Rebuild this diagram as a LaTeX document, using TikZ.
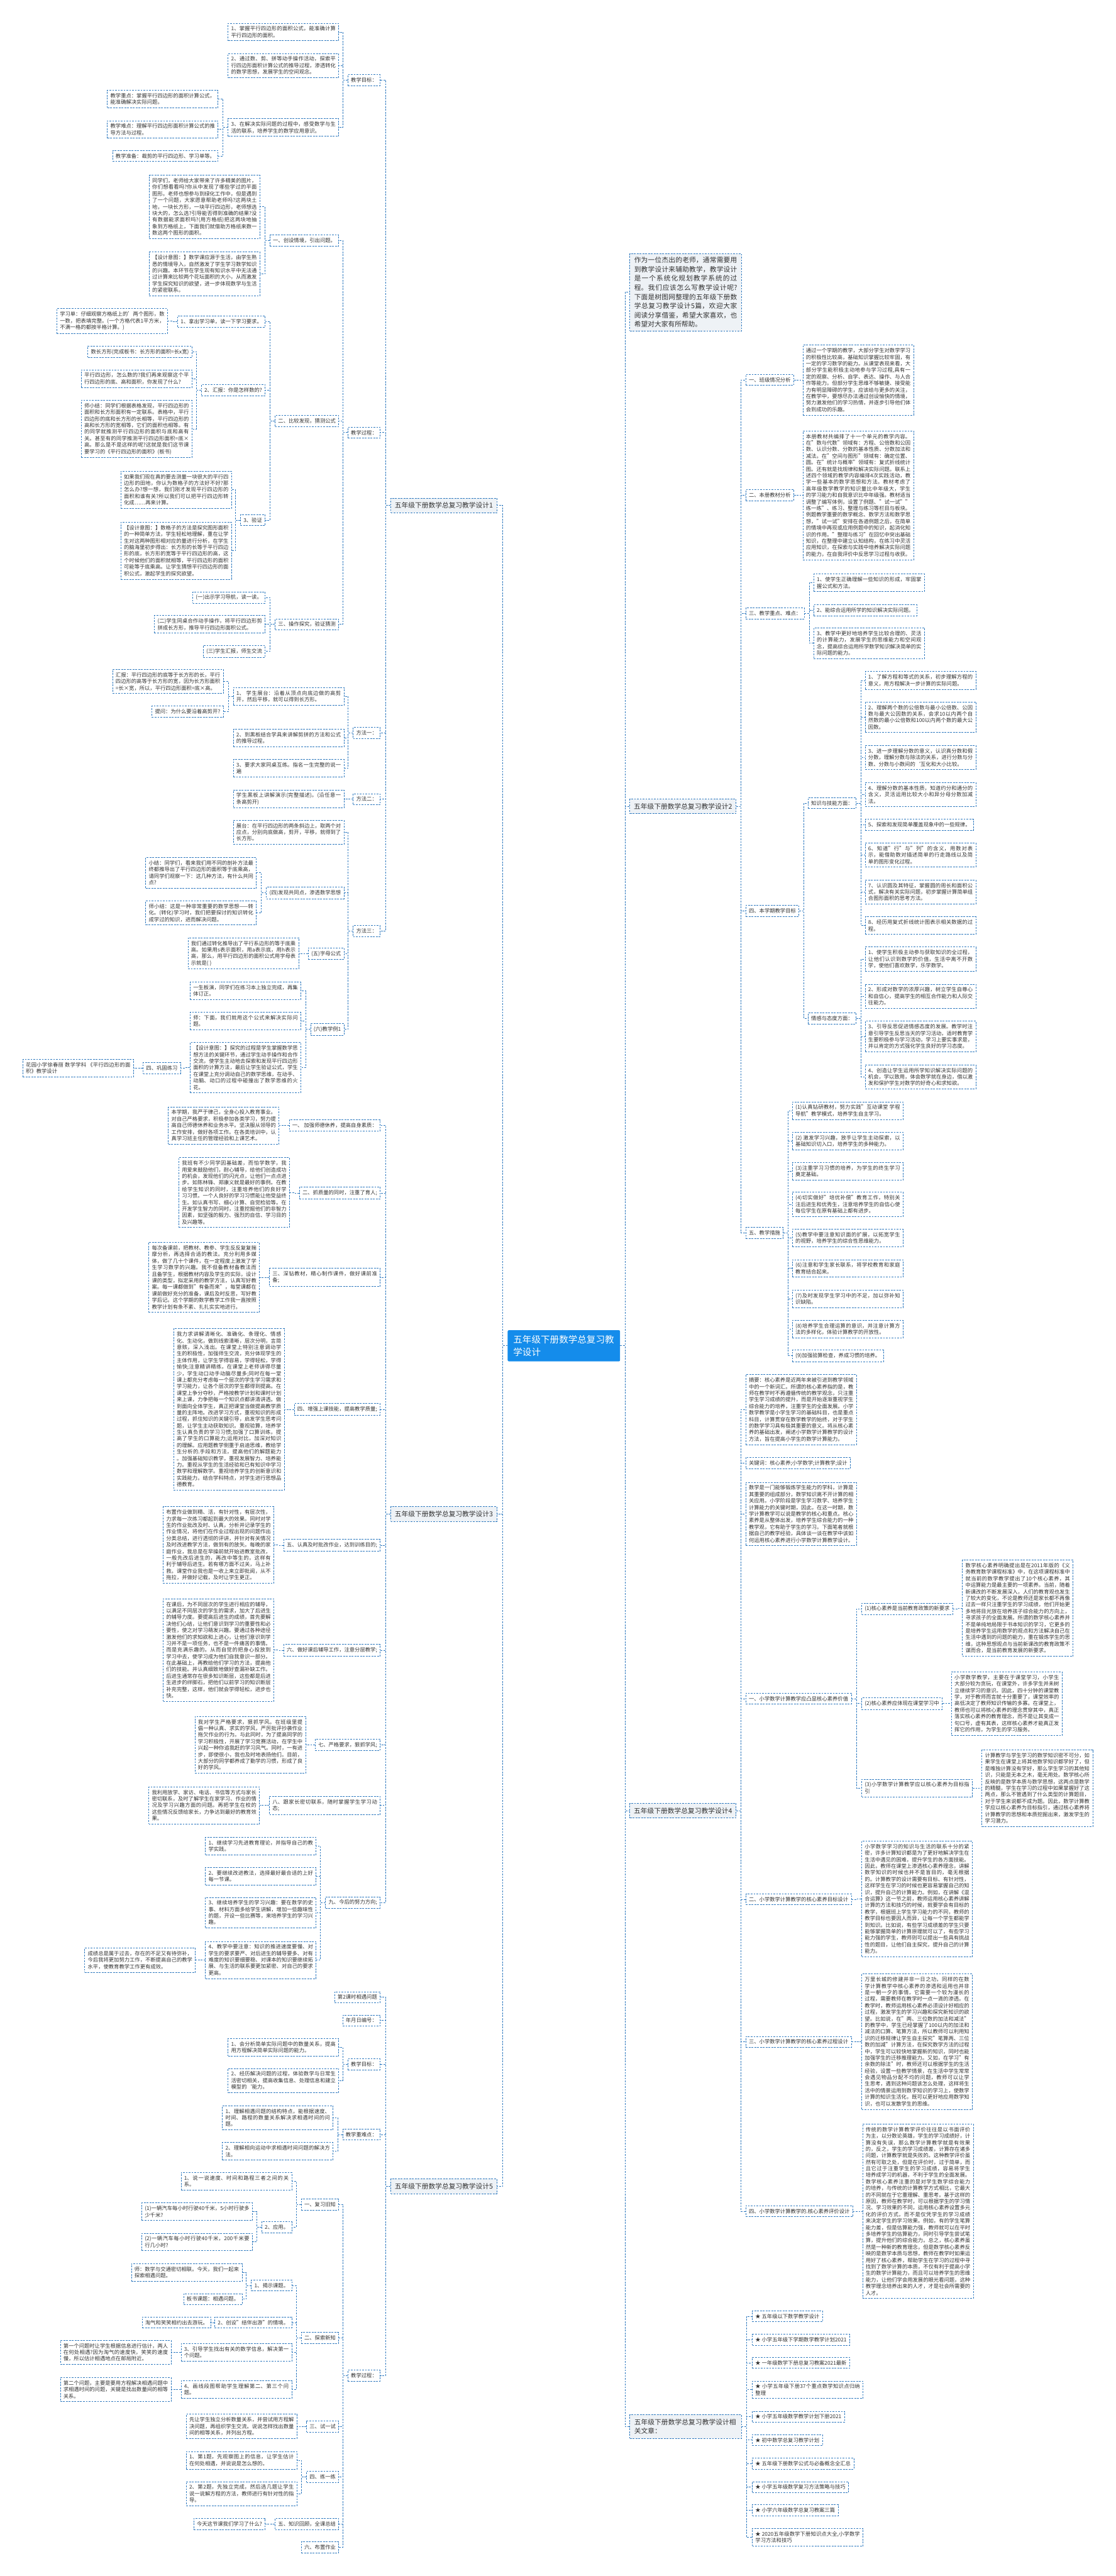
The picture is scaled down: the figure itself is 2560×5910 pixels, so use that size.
\documentclass[tikz,border=0pt]{standalone}
\usepackage{fontspec}
\setmainfont{Noto Sans CJK SC}
\XeTeXlinebreaklocale "zh"
\XeTeXlinebreakskip=0pt plus 1pt
\tolerance=9999
\emergencystretch=3em
\definecolor{linec}{RGB}{45,120,190}
\definecolor{txtc}{RGB}{51,51,51}
\definecolor{headc}{RGB}{238,242,246}
\definecolor{rootc}{RGB}{20,140,235}

\begin{document}
\begin{tikzpicture}
  [x=1pt,y=-1pt,
   box/.style={draw=linec,dash pattern=on 4pt off 2.5pt,line width=1.1pt,fill=white,text=txtc,
     font=\fontsize{12}{15}\selectfont,inner xsep=7pt,inner ysep=7pt},
   leaf/.style={box,text width=240pt,align=justify},
   lleaf/.style={leaf,anchor=east},
   llab/.style={box,anchor=east},
   rleaf/.style={leaf,anchor=west},
   rlab/.style={box,anchor=west},
   head/.style={box,fill=headc,font=\fontsize{15.5}{21}\selectfont,inner xsep=9pt,inner ysep=9.5pt},
   root/.style={fill=rootc,text=white,font=\fontsize{21}{28}\selectfont,text width=232pt,
     inner xsep=13pt,inner ysep=12pt,rounded corners=3pt},
   link/.style={draw=linec,dash pattern=on 4pt off 2.5pt,line width=1.1pt}]

  \fill[white] (0,0) rectangle (2560,5910);
  \useasboundingbox (0,0) rectangle (2560,5910);

  \node[root] (c) at (1294,3087.5) {五年级下册数学总复习教学设计};

  % design 1
  \node[head,anchor=east] (b1) at (1141,1159.5) {五年级下册数学总复习教学设计1};
  \node[llab] (mb) at (873,184) {教学目标：};
  \node[lleaf] (mb1) at (778,73.5) {1、掌握平行四边形的面积公式，能准确计算平行四边形的面积。};
  \node[lleaf] (mb2) at (778,150.5) {2、通过数、剪、拼等动手操作活动，探索平行四边形面积计算公式的推导过程，渗透转化的数学思想，发展学生的空间观念。};
  \node[lleaf] (mb3) at (778,292.5) {3、在解决实际问题的过程中，感受数学与生活的联系，培养学生的数学应用意识。};
  \node[lleaf] (zd) at (501,227) {教学重点：掌握平行四边形的面积计算公式，能准确解决实际问题。};
  \node[lleaf] (nd) at (501,297) {教学难点：理解平行四边形面积计算公式的推导方法与过程。};
  \node[llab] (zb) at (501,358) {教学准备：裁剪的平行四边形、学习单等。};
  \node[llab] (gc) at (873,992.5) {教学过程：};
  \node[llab] (s1) at (778,552) {一、创设情境，引出问题。};
  \node[lleaf] (s1a) at (597,474.5) {同学们，老师给大家带来了许多精美的图片，你们想看看吗?你从中发现了哪些学过的平面图形。老师也想参与到绿化工作中，但是遇到了一个问题，大家愿意帮助老师吗?这两块土地，一块长方形，一块平行四边形，老师想选块大的，怎么选?引导能否得到准确的结果?没有数据能求面积吗?(用方格纸)把这两块地抽象到方格纸上，下面我们就借助方格纸来数一数这两个图形的面积。};
  \node[lleaf] (s1b) at (597,628.5) {【设计意图：】数学课应源于生活，由学生熟悉的情境导入，自然激发了学生学习数学知识的兴趣。本环节在学生现有知识水平中无法通过计算来比较两个花坛面积的大小，从而激发学生探究知识的欲望，进一步体现数学与生活的紧密联系。};
  \node[llab] (s2) at (778,966) {二、比较发现，猜测公式};
  \node[llab] (s2a) at (609,737.5) {1、拿出学习单，读一下学习要求。};
  \node[lleaf] (s2aa) at (385,736.5) {学习单：仔细观察方格纸上的'两个图形，数一数，把表填完整。(一个方格代表1平方米，不满一格的都按半格计算。)};
  \node[llab] (s2b) at (609,895) {2、汇报：你是怎样数的?};
  \node[llab] (s2ba) at (441,807) {数长方形(完成板书：长方形的面积=长x宽)};
  \node[lleaf] (s2bb) at (441,868.5) {平行四边形，怎么数的?我们再来观察这个平行四边形的底、高和面积，你发现了什么?};
  \node[lleaf] (s2bc) at (441,984) {师小结：同学们根据表格发现，平行四边形的面积和长方形面积有一定联系。表格中，平行四边形的底和长方形的长相等，平行四边形的高和长方形的宽相等，它们的面积也相等。有的同学就推测平行四边形的面积与底和高有关。甚至有的同学推测平行四边形面积=底×高。那么是不是这样的呢?这就是我们这节课要学习的《平行四边形的面积》(板书)};
  \node[llab] (s2c) at (609,1193.5) {3、验证};
  \node[lleaf] (s2ca) at (532,1123.5) {如果我们现在真的要去测量一块很大的平行四边形的田地，你认为数格子的方法好不好?那怎么办?想一想，我们刚才发现平行四边形的面积和谁有关?所以我们可以把平行四边形转化成……再来计算。};
  \node[lleaf] (s2cb) at (532,1263.5) {【设计意图：】数格子的方法是探究图形面积的一种简单方法，学生轻松地理解，重在让学生对这两种图形相对应的量进行分析，在学生的脑海里初步得出：长方形的长等于平行四边形的底，长方形的宽等于平行四边形的高，这个时候他们的面积就相等，平行四边形的面积可能等于底乘高。让学生猜想平行四边形的面积公式，激起学生的探究欲望。};
  \node[llab] (s3) at (778,1432.5) {三、操作探究，验证猜测};
  \node[llab] (s3a) at (609,1371) {(一)出示学习导航，读一读。};
  \node[lleaf] (s3b) at (609,1432.5) {(二)学生同桌合作动手操作，将平行四边形剪拼成长方形，推导平行四边形面积公式。};
  \node[llab] (s3c) at (609,1494.5) {(三)学生汇报，师生交流};
  \node[llab] (f1) at (873,1681.5) {方法一：};
  \node[lleaf] (f1a) at (790,1597.5) {1、 学生展台：沿着从顶点向底边做的高剪开，然后平移，就可以得到长方形。};
  \node[lleaf] (f1aa) at (513,1563.5) {汇报：平行四边形的底等于长方形的长，平行四边形的高等于长方形的宽，因为长方形面积=长×宽，所以，平行四边形面积=底×高。};
  \node[llab] (f1ab) at (513,1632.5) {提问：为什么要沿着高剪开?};
  \node[lleaf] (f1b) at (790,1693) {2、到黑板结合学具来讲解剪拼的方法和公式的推导过程。};
  \node[lleaf] (f1c) at (790,1762.5) {3、要求大家同桌互练。指名一生完整的说一遍};
  \node[llab] (f2) at (873,1833.5) {方法二：};
  \node[lleaf] (f2a) at (790,1833) {学生黑板上讲解演示(完整描述)。(沿任意一条高剪开)};
  \node[llab] (f3) at (873,2136) {方法三：};
  \node[lleaf] (f3a) at (790,1909.5) {展台：在平行四边形的两条斜边上，取两个对应点，分别向底做高，剪开，平移，就得到了长方形。};
  \node[llab] (f3b) at (790,2048.5) {(四)发现共同点，渗透数学思想};
  \node[lleaf] (f3ba) at (589,2002.5) {小结：同学们，看来我们用不同的剖补方法最终都推导出了平行四边形的面积等于底乘高，请同学们观察一下：这几种方法，有什么共同点?};
  \node[lleaf] (f3bb) at (589,2094.5) {师小结：这是一种非常重要的数学思想——转化。(转化)学习时，我们把要探讨的知识转化成学过的知识，进而解决问题。};
  \node[llab] (f3c) at (790,2188) {(五)字母公式};
  \node[lleaf] (f3ca) at (686,2187.5) {我们通过转化推导出了平行系边形的等于底乘高。如果用s表示面积，用a表示底，用h表示高，那么，用平行四边形的面积公式用字母表示就是( )};
  \node[llab] (f3d) at (790,2361.5) {(六)教学例1};
  \node[lleaf] (f3da) at (691,2273) {一生板演，同学们在练习本上独立完成，再集体订正。};
  \node[lleaf] (f3db) at (691,2342.5) {师：下面，我们就用这个公式来解决实际问题。};
  \node[lleaf] (f3dc) at (691,2449.5) {【设计意图：】探究的过程是学生掌握数学思想方法的关键环节，通过学生动手操作和合作交流，使学生主动地去探索和发现平行四边形面积的计算方法，最后让学生验证公式，学生在课堂上充分调动自己的数学思维，在动手、动脑、动口的过程中碰撞出了数学思维的火花。};
  \node[llab] (gg) at (415,2450.5) {四、巩固练习};
  \node[lleaf] (hy) at (307,2450.5) {花园小学徐春丽 数学学科 《平行四边形的面积》教学设计};

  % design 3
  \node[head,anchor=east] (b3) at (1141,3473.5) {五年级下册数学总复习教学设计3};
  \node[llab] (t1) at (873,2582) {一、 加强师德休养，提高自身素质：};
  \node[lleaf] (t1a) at (641,2582) {本学期，我严于律己，全身心投入教育事业。对自己严格要求，积极参加各类学习，努力提高自己师德休养和业务水平。坚决服从领导的工作安排，做好各项工作。在各类培训中，认真学习班主任的管理经验和上课艺术。};
  \node[llab] (t2) at (873,2737) {二、抓质量的同时，注重了育人;};
  \node[lleaf] (t2a) at (665,2736) {我班有不少同学因基础差，而怕学数学，我用爱来鼓励他们，耐心辅导，给他们创造成功的机会，发现他们的闪光点，让他们一点点进步。如陈林锋、郑康义就是最好的事例。在教给学生知识的同时，注重培养他们的良好学习习惯。一个人良好的学习习惯能让他受益终生。如认真书写、细心计算、自觉检验等。在开发学生智力的同时，注重挖掘他们的非智力因素，如坚强的毅力、强烈的自信、学习目的及兴趣等。};
  \node[lleaf] (t3) at (873,2930.5) {三、深钻教材，精心制作课件，做好课前准备;};
  \node[lleaf] (t3a) at (596,2930.5) {每次备课前，把教材、教参、学生反反复复揣摩分析，再选择合适的教法。充分利用多媒体，做了几十个课件，在一定程度上激发了学生学习数学的兴趣。我不但备教材备教法而且备学生，根据教材内容及学生的实际，设计课的类型，拟定采用的教学方法，认真写好教案。每一课都做到"有备而来"，每堂课都在课前做好充分的准备，课后及时反思，写好教学后记。这个学期的数学教学工作我一直按照教学计划有条不紊、扎扎实实地进行。};
  \node[llab] (t4) at (873,3233.5) {四、增强上课技能，提高教学质量;};
  \node[lleaf] (t4a) at (653,3233.5) {我力求讲解清晰化、准确化、条理化、情感化、生动化，做到线索清晰，层次分明，言简意赅，深入浅出。在课堂上特别注意调动学生的积极性，加强师生交流，充分体现学生的主体作用，让学生学得容易，学得轻松，学得愉快;注意精讲精练，在课堂上老师讲得尽量少，学生动口动手动脑尽量多;同时在每一堂课上都充分考虑每一个层次的学生学习需求和学习能力，让各个层次的学生都得到提高。在课堂上争分夺秒，严格按教学计划和课时计划来上课，力争把每一个知识点都讲清讲透。做到面向全体学生，真正把课堂当做提高教学质量的主阵地。改进学习方式，重视知识的形成过程，抓住知识的关键引导，启发学生思考问题，让学生主动获取知识。重视验算，培养学生认真负责的学习习惯;加强了口算训练，提高了学生的口算能力;运用对比，加深对知识的理解。应用题教学侧重于启迪思维，教给学生分析的.手段和方法，提高他们的解题能力 。加强基础知识教学，重视发展智力、培养能力。重视从学生的生活经验和已有知识中学习数学和理解数学。重视培养学生的创新意识和实践能力。结合学科特点，对学生进行思想品德教育。};
  \node[llab] (t5) at (873,3545) {五、认真及时批改作业，达到训练目的;};
  \node[lleaf] (t5a) at (629,3544.5) {布置作业做到精、活，有针对性，有层次性，力求每一次练习都起到最大的效果。同时对学生的作业批改及时、认真，分析并记录学生的作业情况，将他们在作业过程出现的问题作出分类总结，进行透彻的评讲，并针对有关情况及时改进教学方法，做到有的放矢。每晚的家庭作业，我总是在早操前就开始进教室批改，一般先改后进生的，再改中等生的，这样有利于辅导后进生。若有哪方面不过关，马上补救。课堂作业我也是一收上来立即批阅，从不拖拉，并做好记载，及时让学生更正。};
  \node[llab] (t6) at (873,3786) {六、做好课后辅导工作，注意分层教学;};
  \node[lleaf] (t6a) at (629,3785.5) {在课后，为不同层次的学生进行相应的辅导，以满足不同层次的学生的需求，加大了后进生的辅导力度。要提高后进生的成绩，首先要解决他们心结，让他们意识到学习的重要性和必要性，使之对学习萌发兴趣。要通过各种途径激发他们的求知欲和上进心，让他们意识到学习并不是一项任务，也不是一件痛苦的事情。而是充满乐趣的。从而自觉的把身心投放到学习中去，使学习成为他们自我意识一部分。在此基础上，再教给他们学习的方法，提高他们的技能。并认真细致地做好查漏补缺工作。后进生通常存在很多知识断层，这些都是后进生进步的绊脚石，把他们以前学习的知识断层补充完整，这样，他们就会学得轻松，进步也快。};
  \node[llab] (t7) at (873,4003) {七、严格要求，狠抓学风;};
  \node[lleaf] (t7a) at (702,4003) {我对学生严格要求，狠抓学风。在班级里提倡一种认真、求实的学风，严厉批评抄袭作业拖欠作业的行为。与此同时，为了提高同学的学习积极性，开展了学习竞赛活动，在学生中兴起一种你追我赶的学习风气。同时，一有进步，即使很小，我也及时地表扬他们。目前，大部分的同学都养成了勤学的习惯，形成了良好的学风。};
  \node[lleaf] (t8) at (873,4142) {八、跟家长密切联系，随时掌握学生学习动态;};
  \node[lleaf] (t8a) at (596,4142) {我利用放学、家访、电话、书信等方式与家长密切联系，及时了解学生在家学习、作业的情况及学习兴趣方面的问题。再把学生在校的这些情况反馈给家长，力争达到最好的教育效果。};
  \node[llab] (t9) at (873,4365) {九、今后的努力方向;};
  \node[lleaf] (t9a) at (726,4235) {1、继续学习先进教育理论，并指导自己的教学实践。};
  \node[lleaf] (t9b) at (726,4304.5) {2、要继续改进教法，选择最好最合适的上好每一节课。};
  \node[lleaf] (t9c) at (726,4388) {3、继续培养学生的学习兴趣：要在数学的史事、材料方面多给学生讲解，增加一些趣味性的题，开设一些比赛等，来培养学生的学习兴趣。};
  \node[lleaf] (t9d) at (726,4496.5) {4、教学中要注意：知识的推进速度要慢、对学生的要求要严、对后进生的辅导要多、对有难度的知识要细要稳、对课本的知识要继续拓展、与生活的联系要更加紧密、对自己的要求更高。};
  \node[lleaf] (t9e) at (449,4497) {成绩总是属于过去，存在的不足又有待弥补，今后我将更加努力工作，不断提高自己的教学水平，使教育教学工作更有成效。};

  % design 5
  \node[head,anchor=east] (b5) at (1141,5016) {五年级下册数学总复习教学设计5};
  \node[llab] (k1) at (873,4582) {第2课时相遇问题};
  \node[llab] (k2) at (873,4635.5) {年月日编号：};
  \node[llab] (k3) at (873,4736) {教学目标：};
  \node[lleaf] (k3a) at (778,4697) {1、会分析简单实际问题中的数量关系，提高用方程解决简单实际问题的能力。};
  \node[lleaf] (k3b) at (778,4773) {2、经历解决问题的过程，体验数学与日常生活密切相关，提高收集信息、处理信息和建立模型的`能力。};
  \node[llab] (k4) at (873,4897) {教学重难点：};
  \node[lleaf] (k4a) at (765,4858.5) {1、理解相遇问题的结构特点，能根据速度、时间、路程的数量关系解决求相遇时间的问题。};
  \node[lleaf] (k4b) at (765,4935.5) {2、理解相向运动中求相遇时间问题的解决方法。};
  \node[llab] (k5) at (873,5450) {教学过程：};
  \node[llab] (p1) at (778,5057.5) {一、复习旧知};
  \node[lleaf] (p1a) at (670,5004) {1、说一说速度、时间和路程三者之间的关系。};
  \node[llab] (p1b) at (670,5109.5) {2、应用。};
  \node[lleaf] (p1ba) at (580,5074) {(1)一辆汽车每小时行驶40千米，5小时行驶多少千米?};
  \node[lleaf] (p1bb) at (580,5143.5) {(2)一辆汽车每小时行驶40千米，200千米要行几小时?};
  \node[llab] (p2) at (778,5363.5) {二、探索新知};
  \node[llab] (p2a) at (670,5243.5) {1、揭示课题。};
  \node[lleaf] (p2aa) at (556,5213.5) {师：数学与交通密切相联。今天，我们一起来探索相遇问题。};
  \node[llab] (p2ab) at (556,5274.5) {板书课题：相遇问题。};
  \node[llab] (p2b) at (670,5328.5) {2、创设"结伴出游"的情境。};
  \node[llab] (p2ba) at (485,5328.5) {淘气和笑笑相约出去游玩。};
  \node[lleaf] (p2c) at (670,5397) {3、引导学生找出有关的数学信息，解决第一个问题。};
  \node[lleaf] (p2ca) at (393,5397) {第一个问题时让学生根据信息进行估计，两人在何处相遇?因为淘气的速度快，笑笑的速度慢，所以估计相遇地点在邮局附近。};
  \node[lleaf] (p2d) at (670,5482) {4、画线段图帮助学生理解第二、第三个问题。};
  \node[lleaf] (p2da) at (393,5482.5) {第二个问题，主要是要用方程解决相遇问题中求相遇时间的问题，关键是找出数量间的相等关系。};
  \node[llab] (p3) at (778,5567) {三、试一试};
  \node[lleaf] (p3a) at (682,5566.5) {先让学生独立分析数量关系，并尝试用方程解决问题，再组织学生交流。说说怎样找出数量间的相等关系，并列出方程。};
  \node[llab] (p4) at (778,5682.5) {四、练一练};
  \node[lleaf] (p4a) at (682,5644.5) {1、第1题，先观察图上的信息，让学生估计在何处相遇，并说说是怎么想的。};
  \node[lleaf] (p4b) at (682,5721) {2、第2题，先独立完成，然后选几题让学生说一说解方程的方法，教师进行有针对性的指导。};
  \node[llab] (p5) at (778,5790.5) {五、知识回顾，全课总结};
  \node[llab] (p5a) at (609,5790.5) {今天这节课我们学习了什么?};
  \node[llab] (p6) at (778,5844) {六、布置作业};

  % intro
  \node[head,anchor=west,text width=236pt,align=justify,inner xsep=10pt,inner ysep=8pt] (intro) at (1445,670.5) {作为一位杰出的老师，通常需要用到教学设计来辅助教学，教学设计是一个系统化规划教学系统的过程。我们应该怎么写教学设计呢?下面是树图网整理的五年级下册数学总复习教学设计5篇，欢迎大家阅读分享借鉴，希望大家喜欢，也希望对大家有所帮助。};

  % design 2
  \node[head,anchor=west] (b2) at (1445,1850) {五年级下册数学总复习教学设计2};
  \node[rlab] (r1) at (1711,871.5) {一、班级情况分析};
  \node[rleaf] (r1a) at (1842,872) {通过一个学期的教学，大部分学生对数学学习的积极性比较高，基础知识掌握比较牢固，有一定的学习数学的能力。从课堂表现来看，大部分学生能积极主动地参与学习过程,具有一定的观察、分析、自学、表达、操作、与人合作等能力。但部分学生思维不够敏捷、接受能力有明显障碍的学生，应该给与更多的关注，在教学中，要想尽办法通过创设愉快的情境，努力激发他们的学习热情，并逐步引导他们体会到成功的乐趣。};
  \node[rlab] (r2) at (1711,1136) {二、本册教材分析};
  \node[rleaf] (r2a) at (1842,1136.5) {本册教材共编排了十一个单元的教学内容。在"数与代数"领域有：方程、公倍数和公因数、认识分数、分数的基本性质、分数加法和减法。在"空间与图形"领域有：确定位置、圆。在"统计与概率"领域有：复式折线统计图。还有就是找规律和解决实际问题。联系上述四个领域的教学内容编排4次实践活动，教学一些基本的数学思想和方法。教材考虑了高年级数学教学的知识量比中年级大，学生的学习能力和自我意识比中年级强。教材适当调整了编写体例，设置了例题、"试一试""练一练"、练习、整理与练习等栏目与板块。例题教学重要的数学概念、数学方法和数学思想，"试一试"安排在各道例题之后，在简单的情境中再现或应用例题中的知识，起消化知识的作用。"整理与练习"在回忆中突出基础知识，在整理中建立认知结构，在练习中灵活应用知识，在探索与实践中培养解决实际问题的能力，在自我评价中反思学习过程与收获。};
  \node[rlab] (r3) at (1711,1407.5) {三、教学重点、难点：};
  \node[rleaf] (r3a) at (1867,1337) {1、使学生正确理解一些知识的形成，牢固掌握公式和方法。};
  \node[rlab] (r3b) at (1867,1400) {2、能综合运用所学的知识解决实际问题。};
  \node[rleaf] (r3c) at (1867,1475.5) {3、教学中更好地培养学生比较合理的、灵活的计算能力，发展学生的思维能力和空间观念，提高综合运用所学数学知识解决简单的实际问题的能力。};
  \node[rlab] (r4) at (1711,2089.5) {四、本学期教学目标};
  \node[rlab] (r4a) at (1854,1842.5) {知识与技能方面：};
  \node[rleaf] (r4a1) at (1985,1561) {1、了解方程和等式的关系，初步理解方程的意义，用方程解决一步计算的实际问题。};
  \node[rleaf] (r4a2) at (1985,1645.5) {2、理解两个数的公倍数与最小公倍数、公因数与最大公因数的关系，会求10以内两个自然数的最小公倍数和100以内两个数的最大公因数。};
  \node[rleaf] (r4a3) at (1985,1738) {3、进一步理解分数的意义，认识真分数和假分数，理解分数与除法的关系，进行分数与分数、分数与小数间的`互化和大小比较。};
  \node[rleaf] (r4a4) at (1985,1823) {4、理解分数的基本性质，知道约分和通分的含义，灵活运用比较大小和异分母分数加减法。};
  \node[rlab] (r4a5) at (1985,1892) {5、探索和发现简单覆盖现象中的一些规律。};
  \node[rleaf] (r4a6) at (1985,1961.5) {6、知道"行"与"列"的含义，用数对表示，能借助数对描述简单的行走路线以及简单的图形变化过程。};
  \node[rleaf] (r4a7) at (1985,2046.5) {7、认识圆及其特征，掌握圆的周长和面积公式，解决有关实际问题，初步掌握计算简单组合图形面积的思考方法。};
  \node[rleaf] (r4a8) at (1985,2123.5) {8、经历用复式折线统计图表示相关数据的过程。};
  \node[rlab] (r4b) at (1854,2336.5) {情感与态度方面：};
  \node[rleaf] (r4b1) at (1985,2200.5) {1、使学生积极主动参与获取知识的全过程，让他们认识到数学的价值，生活中离不开数学，使他们喜欢数学，乐学数学。};
  \node[rleaf] (r4b2) at (1985,2285.5) {2、形成对数学的浓厚兴趣，树立学生自尊心和自信心，提高学生的相互合作能力和人际交往能力。};
  \node[rleaf] (r4b3) at (1985,2378) {3、引导反思促进情感态度的发展。教学时注意引导学生反思当天的学习活动，适时教育学生要积极参与学习活动，学习上要实事求是，并以肯定的方式强化学生良好的学习态度。};
  \node[rleaf] (r4b4) at (1985,2470.5) {4、创造让学生运用所学知识解决实际问题的机会，学以致用，体会数学就在身边，借以激发和保护学生对数学的好奇心和求知欲。};
  \node[rlab] (r5) at (1711,2828.5) {五、教学措施};
  \node[rleaf] (r5a1) at (1818,2548) {(1)认真钻研教材，努力实践"互动课堂 学程导航"教学模式，培养学生自主学习。};
  \node[rleaf] (r5a2) at (1818,2617.5) {(2) 激发学习兴趣，放手让学生主动探索，以基础知识切入口，培养学生的多种能力。};
  \node[rleaf] (r5a3) at (1818,2687) {(3)注重学习习惯的培养，为学生的终生学习奠定基础。};
  \node[rleaf] (r5a4) at (1818,2763) {(4)切实做好"培优补偿"教育工作，特别关注后进生和优秀生，注意培养学生的自信心使每位学生在原有基础上都有进步。};
  \node[rleaf] (r5a5) at (1818,2840) {(5)教学中要注意知识面的扩展，以拓宽学生的视野，培养学生的综合性思维能力。};
  \node[rleaf] (r5a6) at (1818,2910) {(6)注意和学生家长联系，将学校教育和家庭教育结合起来。};
  \node[rleaf] (r5a7) at (1818,2979.5) {(7)及时发现学生学习中的不足，加以弥补知识缺陷。};
  \node[rleaf] (r5a8) at (1818,3049) {(8)培养学生合理运算的意识，并注意计算方法的多样化，体验计算教学的开放性。};
  \node[rlab] (r5a9) at (1818,3110.5) {(9)加强验算检查，养成习惯的培养。};

  % design 4
  \node[head,anchor=west] (b4) at (1445,4154) {五年级下册数学总复习教学设计4};
  \node[rleaf] (q0) at (1711,3234) {摘要：核心素养是近两年来被引进到教学领域中的一个新词汇。所谓的核心素养指的是，教师在教学时不再遵循传统的教学观念，只注重学生学习成绩的提升，而是开始逐渐重视学生综合能力的培养，注重学生的全面发展。小学数学教学是小学生学习的基础科目，也是重点科目，计算贯穿在数学教学的始终，对于学生的数学学习具有极其重要的意义。将从核心素养的基础出发，阐述小学数学计算教学的设计方法，旨在提高小学生的数学计算能力。};
  \node[rlab] (qk) at (1711,3356.5) {关键词：核心素养;小学数学;计算教学;设计};
  \node[rleaf] (qs) at (1711,3473.5) {数学是一门能够锻炼学生能力的学科，计算是其重要的组成部分，数学知识离不开计算的相关应用。小学阶段是学生学习数学、培养学生计算能力的关键时期，因此，在这一时期，数学计算教学可以说是教学的核心和重点。核心素养是从整体出发，培养学生综合能力的一种教学观，它有助于学生的学习。下面笔者就根据自己的教学经验，具体谈一谈在教学中该如何运用核心素养进行小学数学计算教学设计。};
  \node[rlab] (q1) at (1711,3897) {一、小学数学计算教学应凸显核心素养价值};
  \node[rlab] (q1a) at (1977,3691) {(1)核心素养是当前教育政策的新要求};
  \node[rleaf] (q1aa) at (2208,3689.5) {数学核心素养明确提出是在2011年版的《义务教育数学课程标准》中，在这项课程标准中就当前的数学教学提出了10个核心素养，其中运算能力是最主要的一项素养。当前，随着新课改的不断发展深入，人们的教育观也发生了较大的变化，不论是教师还是家长都不再像过去一样只注重学生的学习成绩，他们开始更多地将目光放在培养孩子综合能力的方向上，寻求孩子的全面发展。所谓的数学核心素养并不是单纯地局限于书本知识的学习，它更多的是培养学生运用数学的观点和方法解决自己在生活中遇到的问题的能力，重在锻炼学生的思维，这种思想观点与当前新课改的教育政策不谋而合，是当前教育发展的新要求。};
  \node[rlab] (q1b) at (1977,3908.5) {(2)核心素养应体现在课堂学习中};
  \node[rleaf] (q1ba) at (2183,3908.5) {小学数学教学，主要在于课堂学习，小学生大部分较为贪玩，在课堂外，许多学生并未树立继续学习的意识。因此，四十分钟的课堂教学，对于教师而言就十分重要了，课堂效率的高低决定了教师知识传输的多寡。在课堂上，教师也可以将核心素养的理念贯穿其中，真正落实核心素养的教育理念，而不是让其变成一句口号，虚有其表，这样核心素养才能真正发挥它的作用，为学生的学习服务。};
  \node[rleaf] (q1c) at (1977,4102) {(3)小学数学计算教学应以核心素养为目标指引};
  \node[rleaf] (q1ca) at (2253,4102.5) {计算教学与学生学习的数学知识密不可分，如果学生在课堂上将其他数学知识都学好了，但是唯独计算没有学好，那么学生学习的其他知识，只能是无本之木，毫无用处。数学核心所反映的是数学本质与数学思想，这两点是数学的精髓，学生在学习的过程中如果掌握好了这两点，那么不管遇到了什么类型的计算题目，对于学生来说都不成为题。因此，数学计算教学应以核心素养为目标指引，通过核心素养将计算教学的思想和本质挖掘出来，激发学生的学习潜力。};
  \node[rlab] (q2) at (1711,4357.5) {二、小学数学计算教学的核心素养目标设计};
  \node[rleaf] (q2a) at (1977,4356.5) {小学数学学习的知识与生活的联系十分的紧密，许多计算知识都是为了更好地解决学生在生活中遇见的困难，提升学生的各方面技能。因此，教师在课堂上渗透核心素养理念，讲解数学知识的时候也并不是盲目的，毫无根据的。计算教学的设计需要有目标、有针对性，这样学生在学习的时候也更容易掌握自己的知识，提升自己的计算能力。例如，在讲解《混合运算》这一节之前，教师运用核心素养讲解计算的方法和技巧的时候，就要学会有目标的教学，根据班上学生学习能力的不同，教师的教学目标也要因人而异，让每一个学生都能学到知识。比如说，有些学习成绩差的学生只要能够掌握简单的计算原理就可以了，有些学习能力强的学生，教师则可以提出一些具有挑战性的题目，让他们自主探究，提升自己的计算能力。};
  \node[rlab] (q3) at (1711,4684.5) {三、小学数学计算教学的核心素养过程设计};
  \node[rleaf] (q3a) at (1977,4684) {万里长城的修建并非一日之功，同样的在数学计算教学中核心素养的渗透和运用也并非是一朝一夕的事情，它需要一个较为漫长的过程，需要教师在教学时一点一滴的渗透。在教学时，教师运用核心素养必须设计好相应的过程，激发学生的学习兴趣和探究新知识的欲望。比如说，在"两、三位数的加法和减法"的教学中，学生已经掌握了100以内的加法和减法的口算、笔算方法，所以教师可以利用知识的迁移规律让学生自主探究"笔算两、三位数的加减"计算方法，在探究数学方法的过程中，学生可以较快地掌握新的知识，同时也能加强学生的迁移推理能力。又如，在学习"有余数的除法"时，教师还可以根据学生的生活经验，设置一些教学情景，在生活中学生常常会遇见物品分配不均的问题，教师可以让学生思考，遇到这种问题该怎么处理，这样将生活中的情景运用到数学知识的学习上，使数学计算的知识生活化，既可以更好地应用数学知识，也可以发散学生的思维。};
  \node[rlab] (q4) at (1711,5073) {四、小学数学计算教学的.核心素养评价设计};
  \node[rleaf] (q4a) at (1979,5073) {传统的数学计算教学评价往往是以书面评价为主，以分数论英雄，学生的学习成绩好，计算没有失误，那么数学计算教学就是有效果的，反之，学生的学习成绩差，计算存在诸多问题，计算教学就是失败的。这种教学评价虽然有可取之处，但是在评价时，过于简单，而且它过于注重学生的学习成绩，容易将学生培养成学习的机器，不利于学生的全面发展。数学核心素养注重的是对学生数学综合能力的培养，与传统的计算教学方式相比，它最大的不同就在于它重理解、重思考。基于这样的原因，教师在教学时，可以根据学生的学习情况、学习效果的不同，运用核心素养设置多元化的评价方式，而不是仅凭学生的学习成绩来决定学生的学习效果。例如，有的学生笔算能力差，但是估算能力强，教师就可以在平时多培养学生的估算能力，同时引导学生尝试笔算，提升他们的综合能力。总之，核心素养虽然是一种新的教育理念，但是数学核心素养反映的是数学本质与思想，教师在教学时如果运用好了核心素养，帮助学生在学习的过程中寻找到了数学计算的本质，不仅有利于提高小学生的数学计算能力，而且可以培养学生的思维能力，让他们学会用发展的眼光看问题，这种教学理念培养出来的人才，才是社会所需要的人才。};

  % related articles
  \node[head,anchor=west,text width=236pt,align=left,inner xsep=10pt] (b6) at (1445,5567) {五年级下册数学总复习教学设计相关文章：};
  \node[rlab] (w1) at (1726,5314) {★ 五年级以下数学教学设计};
  \node[rlab] (w2) at (1726,5368) {★ 小学五年级下学期数学教学计划2021};
  \node[rlab] (w3) at (1726,5421) {★ 一年级数学下册总复习教案2021最新};
  \node[rleaf] (w4) at (1726,5482.5) {★ 小学五年级下册37个重点数学知识点归纳整理};
  \node[rlab] (w5) at (1726,5544.5) {★ 小学五年级数学教学计划下册2021};
  \node[rlab] (w6) at (1726,5598) {★ 初中数学总复习教学计划};
  \node[rlab] (w7) at (1726,5652) {★ 五年级下册数学公式与必备概念全汇总};
  \node[rlab] (w8) at (1726,5706) {★ 小学五年级数学复习方法策略与技巧};
  \node[rlab] (w9) at (1726,5759) {★ 小学六年级数学总复习教案三篇};
  \node[rleaf] (w10) at (1726,5821) {★ 2020五年级数学下册知识点大全,小学数学学习方法和技巧};

  \foreach \p/\c in {c/b1,c/b3,c/b5,
      b1/mb,b1/gc,b1/f1,b1/f2,b1/f3,mb/mb1,mb/mb2,mb/mb3,mb3/zd,mb3/nd,mb3/zb,
      gc/s1,gc/s2,gc/s3,s1/s1a,s1/s1b,s2/s2a,s2/s2b,s2/s2c,s2a/s2aa,
      s2b/s2ba,s2b/s2bb,s2b/s2bc,s2c/s2ca,s2c/s2cb,s3/s3a,s3/s3b,s3/s3c,
      f1/f1a,f1/f1b,f1/f1c,f1a/f1aa,f1a/f1ab,f2/f2a,f3/f3a,f3/f3b,f3/f3c,f3/f3d,
      f3b/f3ba,f3b/f3bb,f3c/f3ca,f3d/f3da,f3d/f3db,f3d/f3dc,f3dc/gg,gg/hy,
      b3/t1,b3/t2,b3/t3,b3/t4,b3/t5,b3/t6,b3/t7,b3/t8,b3/t9,
      t1/t1a,t2/t2a,t3/t3a,t4/t4a,t5/t5a,t6/t6a,t7/t7a,t8/t8a,
      t9/t9a,t9/t9b,t9/t9c,t9/t9d,t9d/t9e,
      b5/k1,b5/k2,b5/k3,b5/k4,b5/k5,k3/k3a,k3/k3b,k4/k4a,k4/k4b,
      k5/p1,k5/p2,k5/p3,k5/p4,k5/p5,k5/p6,p1/p1a,p1/p1b,p1b/p1ba,p1b/p1bb,
      p2/p2a,p2/p2b,p2/p2c,p2/p2d,p2a/p2aa,p2a/p2ab,p2b/p2ba,p2c/p2ca,p2d/p2da,
      p3/p3a,p4/p4a,p4/p4b,p5/p5a}
    \draw[link] (\p.west) -- ++(-11,0) |- (\c.east);

  \foreach \p/\c in {c/intro,c/b2,c/b4,c/b6,
      b2/r1,b2/r2,b2/r3,b2/r4,b2/r5,r1/r1a,r2/r2a,r3/r3a,r3/r3b,r3/r3c,
      r4/r4a,r4/r4b,r4a/r4a1,r4a/r4a2,r4a/r4a3,r4a/r4a4,r4a/r4a5,r4a/r4a6,r4a/r4a7,r4a/r4a8,
      r4b/r4b1,r4b/r4b2,r4b/r4b3,r4b/r4b4,
      r5/r5a1,r5/r5a2,r5/r5a3,r5/r5a4,r5/r5a5,r5/r5a6,r5/r5a7,r5/r5a8,r5/r5a9,
      b4/q0,b4/qk,b4/qs,b4/q1,b4/q2,b4/q3,b4/q4,q1/q1a,q1/q1b,q1/q1c,
      q1a/q1aa,q1b/q1ba,q1c/q1ca,q2/q2a,q3/q3a,q4/q4a,
      b6/w1,b6/w2,b6/w3,b6/w4,b6/w5,b6/w6,b6/w7,b6/w8,b6/w9,b6/w10}
    \draw[link] (\p.east) -- ++(11,0) |- (\c.west);
\end{tikzpicture}
\end{document}
